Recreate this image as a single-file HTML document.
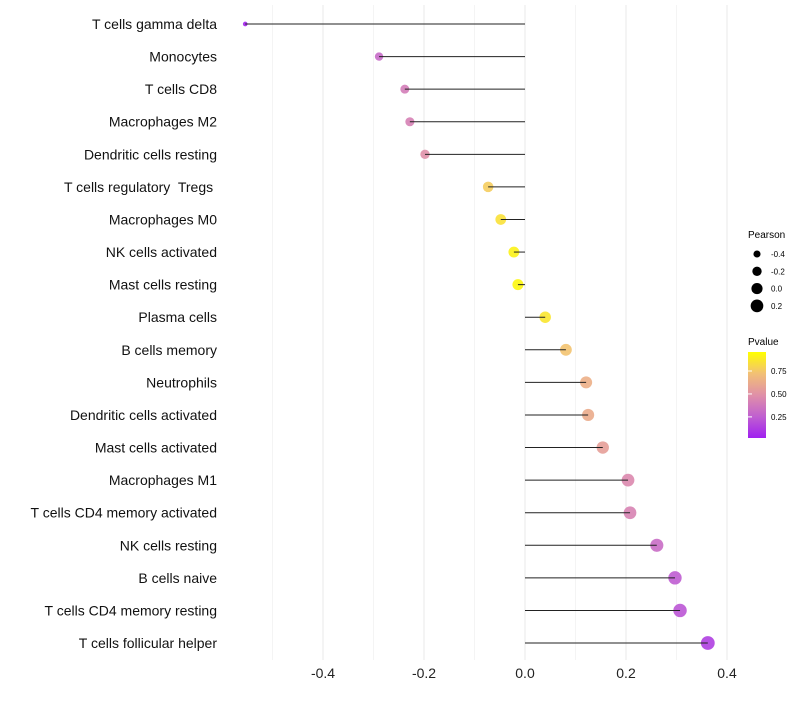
<!DOCTYPE html>
<html><head><meta charset="utf-8"><style>
body{margin:0;background:#fff}
svg text{font-family:"Liberation Sans",sans-serif}
#ylabels text{white-space:pre}
</style></head><body>
<svg id="chart" width="800" height="700" xmlns="http://www.w3.org/2000/svg">
<g id="grid"></g>
<g id="marks"></g>
<g id="ylabels" xml:space="preserve"></g>
<g id="xlabels"></g>
<g id="legend">
<text x="748" y="238" font-size="10">Pearson</text>
<g id="sizeLegend"></g>
<text x="748" y="345" font-size="10">Pvalue</text>
<defs><linearGradient id="pg" x1="0" y1="1" x2="0" y2="0">
<stop offset="0" stop-color="#a020f0"/><stop offset="0.25" stop-color="#c060d0"/><stop offset="0.5" stop-color="#e090a8"/><stop offset="0.75" stop-color="#f2c075"/><stop offset="1" stop-color="#ffff00"/></linearGradient></defs>
<rect x="748" y="352" width="18" height="86" fill="url(#pg)"/>
<g id="cbTicks"></g>
</g>
</svg>
<script>
const categories=["T cells gamma delta","Monocytes","T cells CD8","Macrophages M2","Dendritic cells resting","T cells regulatory  Tregs ","Macrophages M0","NK cells activated","Mast cells resting","Plasma cells","B cells memory","Neutrophils","Dendritic cells activated","Mast cells activated","Macrophages M1","T cells CD4 memory activated","NK cells resting","B cells naive","T cells CD4 memory resting","T cells follicular helper"];
const pearson=[-0.554,-0.289,-0.238,-0.228,-0.198,-0.073,-0.048,-0.022,-0.014,0.040,0.081,0.121,0.125,0.154,0.204,0.208,0.261,0.297,0.307,0.362];
const pvalue=[0.02,0.30,0.40,0.42,0.50,0.80,0.88,0.95,0.97,0.90,0.76,0.66,0.64,0.58,0.46,0.43,0.32,0.24,0.21,0.12];
const xTicks=[-0.4,-0.2,0.0,0.2,0.4];
const xTickLabels=["-0.4","-0.2","0.0","0.2","0.4"];
const gridMinor=[-0.5,-0.3,-0.1,0.1,0.3];
const sizeLegendVals=[-0.4,-0.2,0.0,0.2];
const cbTickVals=[0.25,0.5,0.75];
const NS="http://www.w3.org/2000/svg";
const x=v=>525+v*505;
const y=i=>24+i*32.58;
const r=v=>Math.sqrt(Math.max(1,31+46*v));
const cbY=p=>438-(p-0.02)*(86/0.937);
const stops=[[0,[160,32,240]],[0.25,[192,96,208]],[0.5,[224,144,168]],[0.75,[242,192,117]],[1,[255,255,0]]];
function col(p){for(let k=1;k<stops.length;k++){if(p<=stops[k][0]){const a=stops[k-1],b=stops[k],t=(p-a[0])/(b[0]-a[0]);return "rgb("+a[1].map((c,j)=>Math.round(c+(b[1][j]-c)*t)).join(",")+")";}}return "rgb(255,255,0)";}
function mk(t,attrs,parent){const e=document.createElementNS(NS,t);for(const k in attrs)e.setAttribute(k,attrs[k]);parent.appendChild(e);return e;}
const grid=document.getElementById('grid'),marks=document.getElementById('marks'),yl=document.getElementById('ylabels'),xl=document.getElementById('xlabels');
gridMinor.forEach(v=>{const l=mk('line',{x1:x(v),x2:x(v),y1:5,y2:660,stroke:'#f4f4f4','stroke-width':1},grid);

});
xTicks.forEach((v,i)=>{const l=mk('line',{x1:x(v),x2:x(v),y1:5,y2:660,stroke:'#ebebeb','stroke-width':1.1},grid);


const t=mk('text',{x:x(v),y:678,'font-size':14,'text-anchor':'middle',fill:'#222'},xl);t.textContent=xTickLabels[i];

});
categories.forEach((c,i)=>{
const cir=mk('circle',{cx:x(pearson[i]),cy:y(i),r:r(pearson[i]),fill:col(pvalue[i]),'fill-opacity':0.9},marks);


const ln=mk('line',{x1:x(0),x2:x(pearson[i]),y1:y(i),y2:y(i),stroke:'#222','stroke-width':1},marks);


const t=mk('text',{x:217,y:y(i)+5,'font-size':14,'text-anchor':'end',fill:'#111'},yl);t.textContent=c;

});
const sl=document.getElementById('sizeLegend');
sizeLegendVals.forEach((v,i)=>{const cy=254+i*17.3;
const c=mk('circle',{cx:757,cy:cy,r:r(v),fill:'#000'},sl);


const t=mk('text',{x:771,y:cy+3,'font-size':8},sl);t.textContent=v.toFixed(1);

});
const cb=document.getElementById('cbTicks');
cbTickVals.forEach(p=>{const yy=cbY(p);
const l=mk('line',{x1:748,x2:752,y1:yy,y2:yy,stroke:'#fff'},cb);


const t=mk('text',{x:771,y:yy+3,'font-size':8},cb);t.textContent=p.toFixed(2);

});
</script>
</body></html>
